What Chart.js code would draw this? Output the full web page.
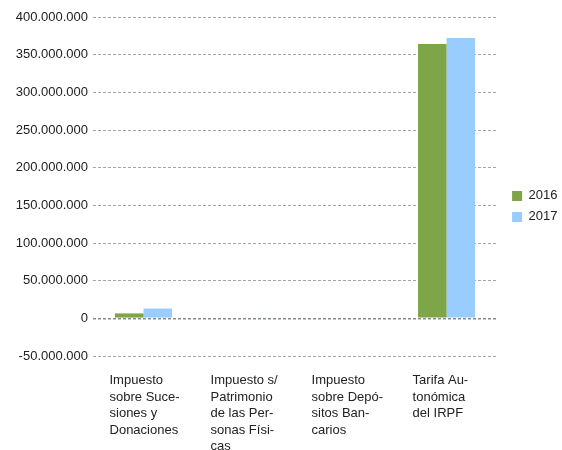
<!DOCTYPE html>
<html>
<head>
<meta charset="utf-8">
<script src="https://cdn.jsdelivr.net/npm/chart.js@4"></script>
<style>
  html, body { margin: 0; padding: 0; background: #fff; }
  #wrap { width: 562px; height: 450px; }
</style>
</head>
<body>
<div id="wrap"><canvas id="chart" width="562" height="450"></canvas></div>
<script>
// categorías (con los cortes de línea del original)
const categories = [
    ['Impuesto', 'sobre Suce-', 'siones y', 'Donaciones'],
    ['Impuesto s/', 'Patrimonio', 'de las Per-', 'sonas Físi-', 'cas'],
    ['Impuesto', 'sobre Depó-', 'sitos Ban-', 'carios'],
    ['Tarifa Au-', 'tonómica', 'del IRPF']
];
const seriesNames = ['2016', '2017'];
const values2016 = [6500000, 0, 0, 364000000];
const values2017 = [13000000, 800000, 0, 372000000];
const yMin = -50000000;
const yMax = 400000000;
const yStep = 50000000;

const fmt = v => String(Math.round(v)).replace(/\B(?=(\d{3})+(?!\d))/g, '.');

const font = { family: 'Liberation Sans', size: 13 };

// mueve la leyenda un poco a la derecha, como en Excel
const legendShift = {
    id: 'legendShift',
    afterLayout(chart) {
        chart.legend.left += 7;
        chart.legend.right += 7;
    }
};

new Chart(document.getElementById('chart').getContext('2d'), {
    type: 'bar',
    data: {
        labels: categories,
        datasets: [
            { label: seriesNames[0], data: values2016, backgroundColor: '#7ea548' },
            { label: seriesNames[1], data: values2017, backgroundColor: '#99ccff' }
        ]
    },
    options: {
        responsive: false,
        animation: false,
        devicePixelRatio: 1,
        layout: { padding: { top: 17, bottom: 0, left: 0, right: 1.5 } },
        datasets: { bar: { categoryPercentage: 0.565, barPercentage: 1 } },
        plugins: {
            tooltip: { enabled: false },
            legend: {
                position: 'right',
                align: 'start',
                title: { display: true, text: '', font: { size: 12, lineHeight: 1.2 }, padding: { top: 150, bottom: 0 } },
                labels: { boxWidth: 10, boxHeight: 10, padding: 8, color: '#222', font: font }
            }
        },
        scales: {
            x: {
                grid: { display: false },
                border: { display: false },
                ticks: {
                    color: '#222',
                    font: { family: 'Liberation Sans', size: 13, lineHeight: 1.28 },
                    align: 'start',
                    labelOffset: -34,
                    maxRotation: 0,
                    autoSkip: false,
                    padding: 8
                },
                afterFit: s => { s.height = 94; }
            },
            y: {
                min: yMin,
                max: yMax,
                border: { display: false, dash: [3, 2] },
                grid: {
                    drawTicks: false,
                    color: ctx => ctx.tick && ctx.tick.value === 0 ? '#8a8a8a' : '#a6a6a6',
                    lineWidth: ctx => ctx.tick && ctx.tick.value === 0 ? 1.5 : 1
                },
                ticks: {
                    stepSize: yStep,
                    padding: 5,
                    color: '#222',
                    font: font,
                    callback: v => fmt(v)
                },
                afterFit: s => { s.width = 93; }
            }
        }
    },
    plugins: [legendShift]
});
</script>
</body>
</html>
